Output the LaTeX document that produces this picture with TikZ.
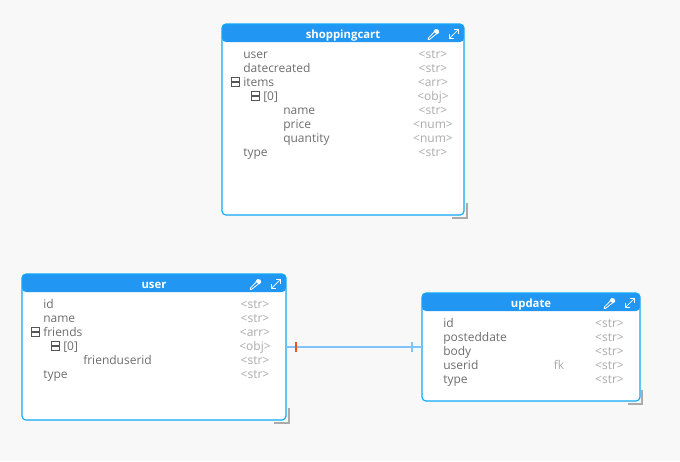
\documentclass[tikz,border=0pt]{standalone}
\usepackage{fontspec}
\setmainfont{Open Sans}
\definecolor{pagebg}{HTML}{F8F8F8}
\definecolor{hdr}{HTML}{2196F3}
\definecolor{edge}{HTML}{0FA8F8}
\definecolor{conn}{HTML}{7FC4FF}
\definecolor{cardtick}{HTML}{F4511E}
\definecolor{namecol}{HTML}{6E6E6E}
\definecolor{typecol}{HTML}{ABABAB}
\definecolor{handle}{HTML}{ABABAB}
\definecolor{minusc}{HTML}{555555}
\tikzset{
  px/.style={x=0.75pt,y=-0.75pt},
  tablebox/.style n args={3}{draw=edge,line width=0.85pt,fill=white,rounded corners=3pt,inner sep=0pt,outer sep=0pt,
    minimum width=#1*0.75pt,minimum height=#2*0.75pt,
    path picture={\fill[hdr] ([yshift=-#3*0.75pt]path picture bounding box.north west) rectangle (path picture bounding box.north east);}},
  titlelbl/.style={font=\fontsize{8.5}{9}\selectfont\bfseries,text=white,anchor=base,inner sep=0pt},
  namelbl/.style={font=\fontsize{9}{9}\selectfont,text=namecol,anchor=base west,inner sep=0pt},
  typelbl/.style={font=\fontsize{9}{9}\selectfont,text=typecol,anchor=base,inner sep=0pt},
  fklbl/.style={font=\fontsize{9}{9}\selectfont,text=typecol,anchor=base,inner sep=0pt},
  minusbox/.style={draw=minusc,line width=0.8pt,fill=none,minimum size=6.6pt,inner sep=0pt,outer sep=0pt,
    path picture={\draw[minusc,line width=0.8pt] (path picture bounding box.west) -- (path picture bounding box.east);}},
  handlemark/.style={draw=handle,line width=1.5pt},
  connline/.style={draw=conn,line width=1.1pt},
  pics/headicons/.style={code={
    % pipette
    \draw[white,line width=0.6pt,line join=round] (-4.2,5.2) -- (-5.8,5.6) -- (-5.4,3.8) -- (0.6,-2.4) -- (2.8,-0.4) -- cycle;
    \fill[white] (-0.4,-2.8) -- (1.6,-5.0) .. controls (3.6,-5.8) and (5.8,-3.6) .. (5.2,-1.4) -- (3.4,0.2) -- cycle;
    % expand
    \draw[white,line width=0.5pt] (15.4,4.4) -- (24.8,-4.8);
    \draw[white,line width=0.5pt] (15.4,0) -- (15.4,4.4) -- (20,4.4);
    \draw[white,line width=0.5pt] (20.2,-4.8) -- (24.8,-4.8) -- (24.8,-0.4);
  }}
}
\begin{document}
\begin{tikzpicture}[px]
\useasboundingbox (0,0) rectangle (680,461);
\fill[pagebg] (0,0) rectangle (680,461);

% shoppingcart
\draw[handlemark] (467,203) -- (467,218) -- (452,218);
\node[tablebox={242}{191}{18}] (cart) at (343,119.5) {};
\node[titlelbl] (carttitle) at (343,38) {shoppingcart};
\pic at (434,34) {headicons};
\node[namelbl] (c1) at (243,58) {user};
\node[namelbl] (c2) at (243,72) {datecreated};
\node[namelbl] (c3) at (243,86) {items};
\node[namelbl] (c4) at (263,100) {[0]};
\node[namelbl] (c5) at (283,114) {name};
\node[namelbl] (c6) at (283,128) {price};
\node[namelbl] (c7) at (283,142) {quantity};
\node[namelbl] (c8) at (243,156) {type};
\node[typelbl] (ct1) at (433,58) {<str>};
\node[typelbl] (ct2) at (433,72) {<str>};
\node[typelbl] (ct3) at (433,86) {<arr>};
\node[typelbl] (ct4) at (433,100) {<obj>};
\node[typelbl] (ct5) at (433,114) {<str>};
\node[typelbl] (ct6) at (433,128) {<num>};
\node[typelbl] (ct7) at (433,142) {<num>};
\node[typelbl] (ct8) at (433,156) {<str>};
\node[minusbox] (cm1) at (235.5,82) {};
\node[minusbox] (cm2) at (255.5,96) {};

% user
\draw[handlemark] (288.5,408) -- (288.5,423) -- (274,423);
\node[tablebox={264}{146}{18}] (user) at (154,347) {};
\node[titlelbl] (usertitle) at (154,288) {user};
\pic at (256,284) {headicons};
\node[namelbl] (u1) at (43,308) {id};
\node[namelbl] (u2) at (43,322) {name};
\node[namelbl] (u3) at (43,336) {friends};
\node[namelbl] (u4) at (63,350) {[0]};
\node[namelbl] (u5) at (83,364) {frienduserid};
\node[namelbl] (u6) at (43,378) {type};
\node[typelbl] (ut1) at (255,308) {<str>};
\node[typelbl] (ut2) at (255,322) {<str>};
\node[typelbl] (ut3) at (255,336) {<arr>};
\node[typelbl] (ut4) at (255,350) {<obj>};
\node[typelbl] (ut5) at (255,364) {<str>};
\node[typelbl] (ut6) at (255,378) {<str>};
\node[minusbox] (um1) at (35.5,332) {};
\node[minusbox] (um2) at (55.5,346) {};

% update
\draw[handlemark] (642,390) -- (642,403.5) -- (628,403.5);
\node[tablebox={218}{108}{18}] (update) at (531,347) {};
\node[titlelbl] (updatetitle) at (531,307) {update};
\pic at (610,303) {headicons};
\node[namelbl] (p1) at (443,327) {id};
\node[namelbl] (p2) at (443,341) {posteddate};
\node[namelbl] (p3) at (443,355) {body};
\node[namelbl] (p4) at (443,369) {userid};
\node[namelbl] (p5) at (443,383) {type};
\node[typelbl] (pt1) at (609.5,327) {<str>};
\node[typelbl] (pt2) at (609.5,341) {<str>};
\node[typelbl] (pt3) at (609.5,355) {<str>};
\node[typelbl] (pt4) at (609.5,369) {<str>};
\node[typelbl] (pt5) at (609.5,383) {<str>};
\node[fklbl] (fk) at (559,369) {fk};

% connector
\draw[connline] (user.east) -- (update.west);
\coordinate (tickA) at (296,347);
\coordinate (tickB) at (412,347);
\draw[cardtick,line width=1.5pt] ([yshift=5*0.75pt]tickA) -- ([yshift=-5*0.75pt]tickA);
\draw[conn,line width=1.1pt] ([yshift=5*0.75pt]tickB) -- ([yshift=-5*0.75pt]tickB);
\end{tikzpicture}
\end{document}
